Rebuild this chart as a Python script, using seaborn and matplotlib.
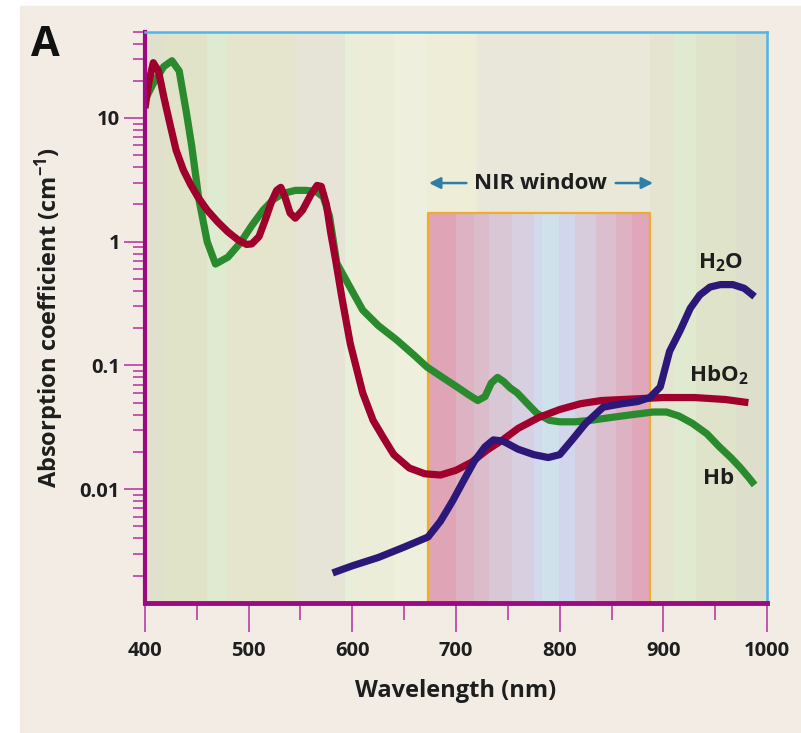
#-----------------------------------------------------------------
# Absorption spectra of Hb, HbO2 and water with the NIR window
#-----------------------------------------------------------------

import pandas as pd
import matplotlib
matplotlib.use("Agg")
import matplotlib.pyplot as plt
import matplotlib.ticker as mticker
from matplotlib.patches import Rectangle
import seaborn as sns

#-----------------------------------------------------------------
# Data
#-----------------------------------------------------------------

hb_nm = [400, 408, 418, 426, 433, 440, 445, 452, 460, 468, 480, 492, 503, 514,
         524, 533, 545, 555, 565, 572, 578, 585, 597, 610, 625, 643, 660, 672,
         690, 701, 712, 721, 728, 734, 740, 746, 752, 759, 768, 778, 790, 800,
         815, 830, 850, 870, 890, 903, 915, 928, 942, 954, 965, 974, 982, 988]
hb_val = [14, 19, 26, 29, 24, 11, 6, 2.2, 1.0, 0.66, 0.75, 0.98, 1.35, 1.8,
          2.2, 2.45, 2.6, 2.6, 2.55, 2.3, 1.6, 0.67, 0.44, 0.28, 0.21, 0.16,
          0.12, 0.097, 0.077, 0.067, 0.058, 0.052, 0.056, 0.072, 0.080, 0.074,
          0.066, 0.060, 0.050, 0.041, 0.036, 0.035, 0.035, 0.036, 0.038, 0.040,
          0.042, 0.042, 0.039, 0.034, 0.028, 0.022, 0.018, 0.015, 0.0125, 0.0108]

hbo2_nm = [400, 404, 408, 413, 418, 424, 430, 437, 444, 451, 460, 470, 480,
           490, 498, 503, 510, 516, 522, 527, 531, 535, 540, 545, 552, 560,
           566, 570, 575, 579, 584, 590, 598, 610, 620, 630, 640, 655, 670,
           685, 700, 715, 730, 745, 760, 780, 800, 820, 840, 860, 880, 900,
           930, 960, 982]
hbo2_val = [12, 20, 28, 24, 15, 9, 5.5, 3.8, 2.9, 2.3, 1.8, 1.45, 1.2,
            1.03, 0.95, 0.96, 1.1, 1.5, 2.1, 2.6, 2.75, 2.3, 1.7, 1.55, 1.8,
            2.4, 2.85, 2.8, 2.0, 1.2, 0.7, 0.35, 0.15, 0.06, 0.036, 0.026,
            0.019, 0.0148, 0.0133, 0.013, 0.0142, 0.0165, 0.0207, 0.025, 0.031,
            0.038, 0.044, 0.049, 0.052, 0.053, 0.054, 0.055, 0.055, 0.053, 0.050]

h2o_nm = [581, 600, 625, 650, 673, 685, 697, 708, 718, 728, 736, 745, 760,
          775, 789, 800, 812, 825, 842, 860, 875, 887, 897, 906, 916, 926,
          935, 945, 955, 967, 978, 988]
h2o_val = [0.0021, 0.0024, 0.0028, 0.0034, 0.0041, 0.0055, 0.0081, 0.012,
           0.017, 0.022, 0.025, 0.0245, 0.021, 0.019, 0.018, 0.019, 0.025,
           0.034, 0.046, 0.049, 0.051, 0.055, 0.067, 0.13, 0.19, 0.29, 0.37,
           0.43, 0.45, 0.45, 0.42, 0.36]

series_names = ["Hb", "HbO$_2$", "H$_2$O"]
series_colors = ["#2a8a2e", "#a0002c", "#2c1878"]

# labels next to the right end of the curves
label_nm = [953, 953, 955]
label_val = [0.0122, 0.084, 0.68]

x_ticks = [400, 500, 600, 700, 800, 900, 1000]
y_ticks = [0.01, 0.1, 1, 10]
y_tick_labels = ["0.01", "0.1", "1", "10"]

# muted spectrum bands behind the plot
band_edges = [400, 420, 460, 479, 545, 593, 601, 640, 672, 720, 800, 887,
              910, 931, 970, 1000]
band_colors = ["#dfe1cd", "#e1e3c8", "#deebd0", "#e5e4cc", "#e5e4d7",
               "#e7efd8", "#ecedd9", "#efefdd", "#eeedd8", "#e8e7da",
               "#eae8d8", "#e5e4d1", "#dfead1", "#dfe3c9", "#dedecd"]

# NIR window rectangle
window_edges = [673, 700, 717, 732, 754, 775, 783, 799, 815, 835, 854, 870, 887]
window_colors = ["#dfa5b7", "#ddb3c3", "#dbbccb", "#d9c7d6", "#d6d0e0",
                 "#d4d8ec", "#cfe1ea", "#d2d6ec", "#d7cbdc", "#dbbfcf",
                 "#ddb2c3", "#dfa7b9"]
window_top = 1.7
window_arrow_nm = [710, 674, 854, 890]
window_text_nm = 781
window_text_val = 2.98

X_MIN, X_MAX = 400, 1000
Y_MIN, Y_MAX = 0.0012, 50

BEIGE = "#f3ece4"
MAGENTA = "#9c0a80"
TICK_PINK = "#c04aa8"
CYAN = "#4fb6ea"
ORANGE = "#f0ac2c"
ARROW = "#2f7ea8"
TEXT = "#1e1e1e"


#-----------------------------------------------------------------
# Function Name : build_frame
# Description   : Put the three spectra into one long table
#-----------------------------------------------------------------
def build_frame():
    parts = []
    for name, nm, val in zip(series_names,
                             [hb_nm, hbo2_nm, h2o_nm],
                             [hb_val, hbo2_val, h2o_val]):
        parts.append(pd.DataFrame({"nm": nm, "val": val, "series": name}))
    return pd.concat(parts, ignore_index=True)


#-----------------------------------------------------------------
# Function Name : main
#-----------------------------------------------------------------
def main():
    sns.set_style("ticks")
    plt.rcParams["font.family"] = ["Open Sans", "DejaVu Sans"]
    plt.rcParams["mathtext.fontset"] = "custom"
    plt.rcParams["mathtext.rm"] = "Open Sans:bold"
    plt.rcParams["mathtext.it"] = "Open Sans:bold"

    fig = plt.figure(figsize=(8.01, 7.33), dpi=100)
    fig.patch.set_facecolor("white")
    fig.patches.append(Rectangle((20 / 801, 0), 1, 1 - 6 / 733,
                                 transform=fig.transFigure,
                                 color=BEIGE, zorder=-10))

    ax = fig.add_axes([0.181, 0.1773, 0.7766, 0.7797])
    ax.set_yscale("log")
    ax.set_xlim(X_MIN, X_MAX)
    ax.set_ylim(Y_MIN, Y_MAX)

    # background bands
    for i, c in enumerate(band_colors):
        ax.axvspan(band_edges[i], band_edges[i + 1], color=c, lw=0, zorder=0)

    # NIR window
    for i, c in enumerate(window_colors):
        ax.fill_between([window_edges[i], window_edges[i + 1]], Y_MIN,
                        window_top, color=c, lw=0, zorder=1)
    ax.plot([window_edges[0], window_edges[0], window_edges[-1], window_edges[-1]],
            [Y_MIN, window_top, window_top, Y_MIN],
            color=ORANGE, lw=1.6, zorder=2)

    ax.text(window_text_nm, window_text_val, "NIR window", ha="center",
            va="center", fontsize=16, fontweight="bold", color=TEXT)
    for i in (0, 2):
        ax.annotate("", xy=(window_arrow_nm[i + 1], window_text_val),
                    xytext=(window_arrow_nm[i], window_text_val),
                    arrowprops=dict(arrowstyle="-|>", color=ARROW, lw=1.8,
                                    mutation_scale=17, shrinkA=0, shrinkB=0))

    # spectra
    df = build_frame()
    sns.lineplot(data=df, x="nm", y="val", hue="series", sort=False,
                 palette=dict(zip(series_names, series_colors)),
                 lw=5.2, legend=False, ax=ax, zorder=3,
                 solid_capstyle="butt", solid_joinstyle="round")

    for name, x, y in zip(series_names, label_nm, label_val):
        ax.text(x, y, name, ha="center", va="center", fontsize=16,
                fontweight="bold", color=TEXT, zorder=4)

    # axes styling
    ax.xaxis.set_major_locator(mticker.FixedLocator(x_ticks))
    ax.xaxis.set_minor_locator(mticker.MultipleLocator(50))
    ax.yaxis.set_major_locator(mticker.FixedLocator(y_ticks))
    ax.yaxis.set_major_formatter(mticker.FixedFormatter(y_tick_labels))
    ax.yaxis.set_minor_locator(mticker.LogLocator(base=10, subs=range(2, 10), numticks=20))
    ax.yaxis.set_minor_formatter(mticker.NullFormatter())

    ax.tick_params(axis="x", which="major", length=21, width=1.3,
                   color=TICK_PINK, pad=6, labelsize=14.5, labelcolor=TEXT)
    ax.tick_params(axis="x", which="minor", length=12, width=1.3, color=TICK_PINK)
    ax.tick_params(axis="y", which="major", length=15, width=1.3,
                   color=TICK_PINK, pad=3, labelsize=14.5, labelcolor=TEXT)
    ax.tick_params(axis="y", which="minor", length=9, width=1.3, color=TICK_PINK)
    for lab in ax.get_xticklabels() + ax.get_yticklabels():
        lab.set_fontweight("bold")

    ax.spines["left"].set_color(MAGENTA)
    ax.spines["left"].set_linewidth(3)
    ax.spines["bottom"].set_color(MAGENTA)
    ax.spines["bottom"].set_linewidth(3.5)
    ax.spines["top"].set_color(CYAN)
    ax.spines["top"].set_linewidth(1.8)
    ax.spines["right"].set_color(CYAN)
    ax.spines["right"].set_linewidth(1.8)
    for s in ax.spines.values():
        s.set_zorder(5)

    ax.set_xlabel("Wavelength (nm)", fontsize=17, fontweight="bold",
                  color=TEXT, labelpad=13)
    ax.set_ylabel("Absorption coefficient (cm$^{-1}$)", fontsize=17,
                  fontweight="bold", color=TEXT, labelpad=10)

    fig.text(45 / 801, 1 - 45 / 733, "A", fontsize=30, fontweight="bold",
             ha="center", va="center", color="#111111")

    fig.savefig("out.png", dpi=100, facecolor=fig.get_facecolor())


if __name__ == "__main__":
    main()
